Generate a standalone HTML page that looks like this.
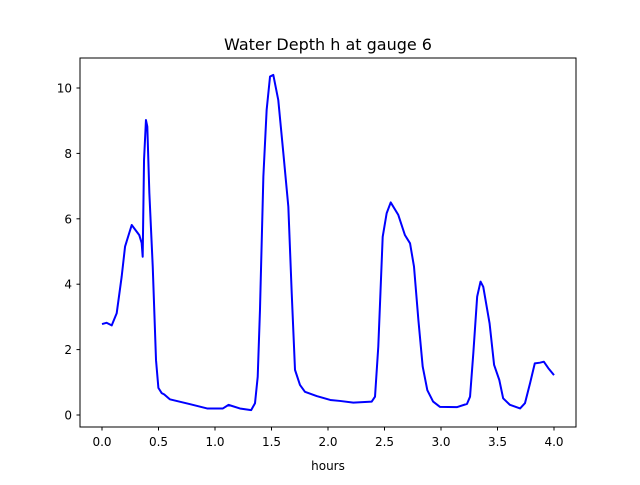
<!DOCTYPE html>
<html><head><meta charset="utf-8"><style>
body{margin:0;background:#fff;}
svg text{font-family:"DejaVu Sans","Liberation Sans",sans-serif;fill:#000;}
</style></head><body>
<svg width="640" height="480" viewBox="0 0 640 480">
<rect width="640" height="480" fill="#fff"/>
<text x="328" y="50" font-size="16" text-anchor="middle">Water Depth h at gauge 6</text>
<g id="ticks"></g>
<polyline id="line" fill="none" stroke="#0000ff" stroke-width="2" stroke-linejoin="round"/>
<rect x="80" y="58" width="496" height="369" fill="none" stroke="#000" stroke-width="1"/>
<text x="328" y="470" font-size="12" text-anchor="middle">hours</text>
</svg>
<script>
const times=[0,0.04,0.086,0.13,0.174,0.204,0.263,0.33,0.351,0.36,0.372,0.389,0.401,0.419,0.449,0.478,0.499,0.528,0.55,0.6,0.78,0.93,1.07,1.12,1.22,1.32,1.354,1.378,1.398,1.428,1.457,1.487,1.516,1.56,1.605,1.649,1.679,1.708,1.752,1.796,1.9,2.02,2.106,2.224,2.387,2.416,2.445,2.484,2.519,2.555,2.622,2.681,2.726,2.761,2.8,2.838,2.879,2.93,2.99,3.14,3.23,3.257,3.286,3.32,3.35,3.374,3.43,3.47,3.516,3.55,3.61,3.7,3.743,3.788,3.83,3.876,3.91,3.95,4.0];
const depths=[2.78,2.82,2.74,3.11,4.23,5.15,5.81,5.5,5.26,4.84,7.8,9.02,8.82,6.79,4.54,1.68,0.83,0.67,0.63,0.48,0.33,0.2,0.2,0.31,0.2,0.15,0.36,1.17,3.21,7.29,9.33,10.35,10.4,9.63,8.0,6.37,3.72,1.38,0.92,0.71,0.58,0.46,0.43,0.38,0.41,0.56,2.09,5.45,6.17,6.5,6.12,5.5,5.25,4.54,2.9,1.48,0.76,0.41,0.25,0.24,0.34,0.56,1.89,3.62,4.08,3.92,2.8,1.53,1.07,0.51,0.31,0.2,0.36,0.97,1.58,1.6,1.63,1.43,1.22];
const xTicks=[0,0.5,1,1.5,2,2.5,3,3.5,4];
const xTickLabels=["0.0","0.5","1.0","1.5","2.0","2.5","3.0","3.5","4.0"];
const yTicks=[0,2,4,6,8,10];
const xs=v=>102+v*113;
const ys=v=>415-v*32.7;
const NS="http://www.w3.org/2000/svg";
const g=document.getElementById('ticks');
xTicks.forEach((t,i)=>{
  const l=document.createElementNS(NS,'line');
  
  
  l.setAttribute('x1',xs(t));l.setAttribute('x2',xs(t));l.setAttribute('y1',427);l.setAttribute('y2',430.5);l.setAttribute('stroke','#000');
  g.appendChild(l);
  const tx=document.createElementNS(NS,'text');
  
  
  tx.setAttribute('x',xs(t));tx.setAttribute('y',446);tx.setAttribute('font-size','12');tx.setAttribute('text-anchor','middle');
  tx.textContent=xTickLabels[i];g.appendChild(tx);
});
yTicks.forEach(t=>{
  const l=document.createElementNS(NS,'line');
  
  
  l.setAttribute('x1',76.5);l.setAttribute('x2',80);l.setAttribute('y1',ys(t));l.setAttribute('y2',ys(t));l.setAttribute('stroke','#000');
  g.appendChild(l);
  const tx=document.createElementNS(NS,'text');
  
  
  tx.setAttribute('x',72);tx.setAttribute('y',ys(t)+4.5);tx.setAttribute('font-size','12');tx.setAttribute('text-anchor','end');
  tx.textContent=String(t);g.appendChild(tx);
});
document.getElementById('line').setAttribute('points',times.map((t,i)=>xs(t)+','+ys(depths[i])).join(' '));
</script>
</body></html>
